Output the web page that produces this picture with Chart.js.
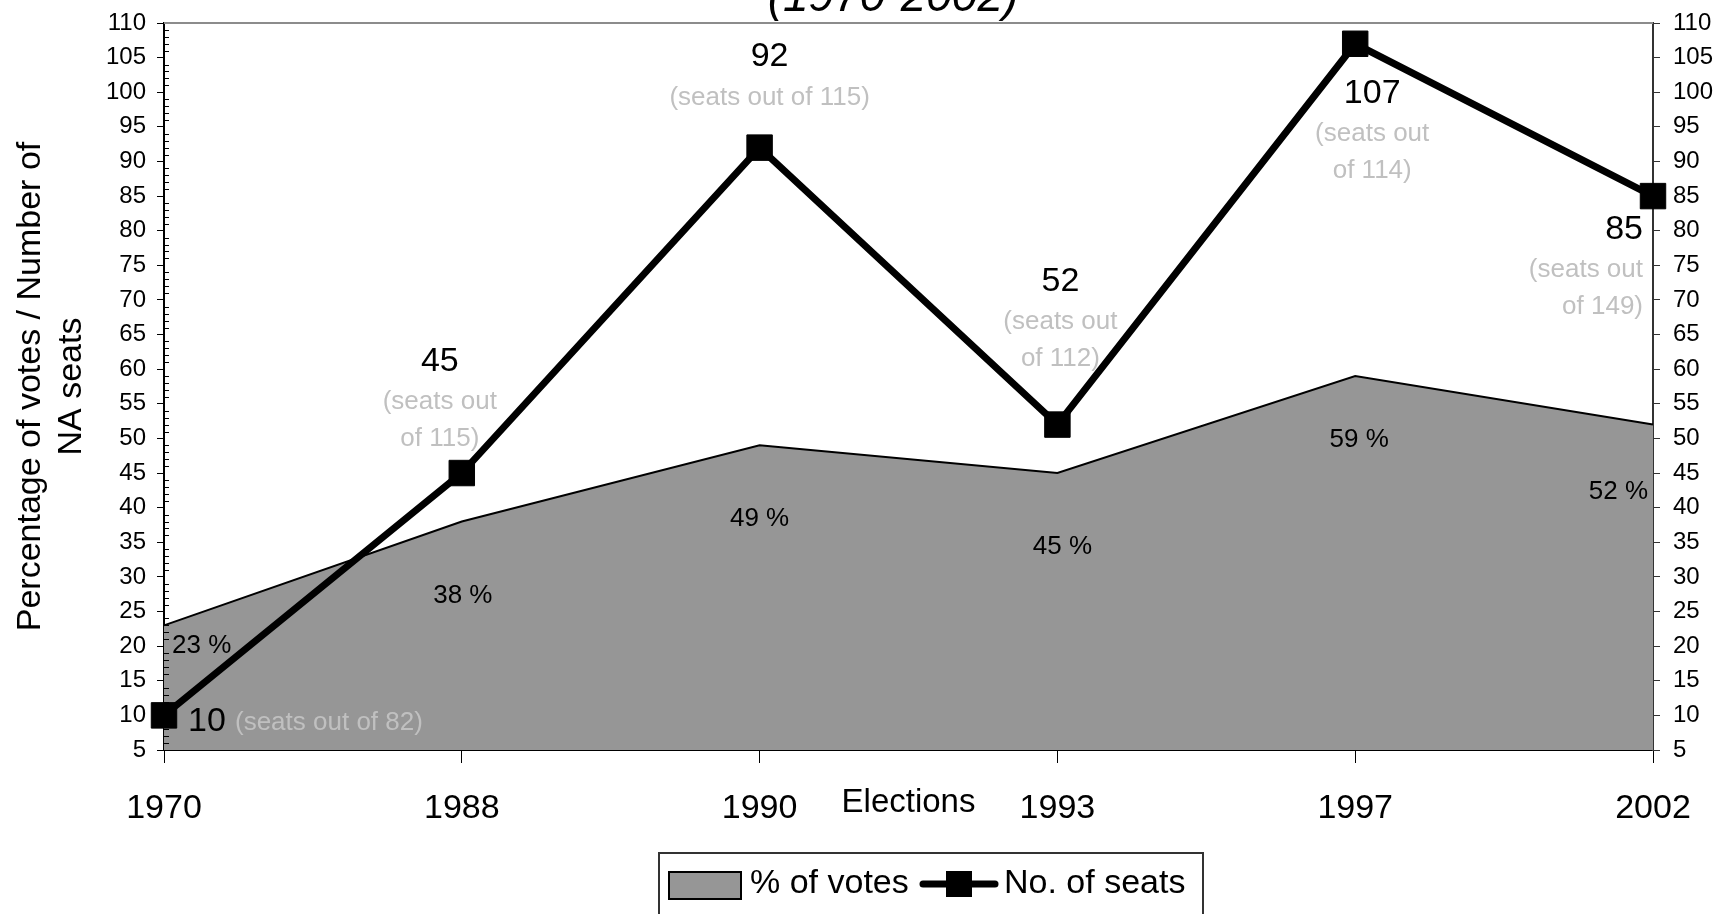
<!DOCTYPE html>
<html lang="en">
<head>
<meta charset="UTF-8">
<title>Votes and NA seats 1970-2002</title>
<script src="https://cdn.jsdelivr.net/npm/chart.js@4.4.1/dist/chart.umd.min.js"></script>
<style>
  html, body { margin: 0; padding: 0; background: #fff; }
  #wrap { width: 1727px; height: 914px; position: relative; }
</style>
</head>
<body>
<div id="wrap"><canvas id="chart"></canvas></div>
<script>
const elections = ['1970', '1988', '1990', '1993', '1997', '2002']
const votePct = [23, 38, 49, 45, 59, 52]
const seatsWon = [10, 45, 92, 52, 107, 85]
const seatsTotal = [82, 115, 115, 112, 114, 149]
const axisRange = { min: 5, max: 110, step: 5 }

// where each data label sits relative to its point (pixels)
const seatLabelPlace = [
  { align: 'left', dx: 24, dy: 6, inline: true, subDx: 71 },
  { align: 'center', dx: -22, dy: -111 },
  { align: 'center', dx: 10, dy: -91, oneLine: true },
  { align: 'center', dx: 3, dy: -143 },
  { align: 'center', dx: 17, dy: 50 },
  { align: 'right', dx: -10, dy: 34 }
]
const pctLabelPlace = [
  { align: 'left', dx: 8, dy: 20 },
  { align: 'center', dx: 1, dy: 74 },
  { align: 'center', dx: 0, dy: 73 },
  { align: 'center', dx: 5, dy: 74 },
  { align: 'center', dx: 4, dy: 64 },
  { align: 'right', dx: -5, dy: 67 }
]

const FONT = '"Liberation Sans", Arial, sans-serif'
const AREA_GREY = '#969696'
Chart.defaults.font.family = FONT
Chart.defaults.color = '#000'

const overlay = {
  id: 'overlay',
  afterDatasetsDraw(chart) {
    const { ctx, chartArea: a, scales } = chart
    ctx.save()
    // plot area top edge
    ctx.strokeStyle = '#8c8c8c'
    ctx.lineWidth = 2
    ctx.beginPath(); ctx.moveTo(a.left, a.top); ctx.lineTo(a.right, a.top); ctx.stroke()

    // minor ticks inside the left axis
    ctx.strokeStyle = '#000'
    ctx.lineWidth = 1
    for (let v = axisRange.min + 1; v < axisRange.max; v++) {
      if (v % axisRange.step === 0) continue
      const py = Math.round(scales.y.getPixelForValue(v)) + 0.5
      ctx.beginPath(); ctx.moveTo(a.left, py); ctx.lineTo(a.left + 5, py); ctx.stroke()
    }

    ctx.textBaseline = 'middle'
    // % labels on the area
    const areaPts = chart.getDatasetMeta(0).data
    ctx.font = '26px ' + FONT
    ctx.fillStyle = '#000'
    areaPts.forEach((p, i) => {
      const s = pctLabelPlace[i]
      ctx.textAlign = s.align
      ctx.fillText(votePct[i] + ' %', p.x + s.dx, p.y + s.dy)
    })

    // seat labels
    const seatPts = chart.getDatasetMeta(1).data
    seatPts.forEach((p, i) => {
      const s = seatLabelPlace[i]
      const x = p.x + s.dx, y = p.y + s.dy
      ctx.textAlign = s.align
      ctx.font = '34px ' + FONT
      ctx.fillStyle = '#000'
      ctx.fillText(String(seatsWon[i]), x, y)
      ctx.font = '26px ' + FONT
      ctx.fillStyle = '#c0c0c0'
      if (s.inline) {
        ctx.textAlign = 'left'
        ctx.fillText('(seats out of ' + seatsTotal[i] + ')', p.x + s.subDx, y + 1)
      } else if (s.oneLine) {
        ctx.fillText('(seats out of ' + seatsTotal[i] + ')', x, y + 41)
      } else {
        ctx.fillText('(seats out', x, y + 40)
        ctx.fillText('of ' + seatsTotal[i] + ')', x, y + 77)
      }
    })
    ctx.restore()
  },
  afterDraw(chart) {
    const { ctx } = chart
    ctx.save()
    // chart title, mostly outside the picture
    ctx.font = 'italic 46px ' + FONT
    ctx.fillStyle = '#000'
    ctx.textAlign = 'center'
    ctx.textBaseline = 'alphabetic'
    ctx.fillText('(1970-2002)', 893, 11)

    // legend
    const ds = chart.data.datasets
    ctx.strokeStyle = '#333'
    ctx.lineWidth = 2
    ctx.strokeRect(659, 853, 544, 100)
    const cy = 884
    ctx.fillStyle = AREA_GREY
    ctx.fillRect(669, 872, 72, 27)
    ctx.strokeStyle = '#000'
    ctx.strokeRect(669, 872, 72, 27)
    ctx.font = '34px ' + FONT
    ctx.fillStyle = '#000'
    ctx.textAlign = 'left'
    ctx.textBaseline = 'middle'
    ctx.fillText(ds[0].label, 750, cy)
    ctx.lineWidth = 7
    ctx.lineCap = 'round'
    ctx.beginPath(); ctx.moveTo(923, cy); ctx.lineTo(995, cy); ctx.stroke()
    ctx.fillRect(946, cy - 13, 26, 26)
    ctx.fillText(ds[1].label, 1004, cy)
    ctx.restore()
  }
}

new Chart(document.getElementById('chart'), {
  type: 'line',
  data: {
    labels: elections,
    datasets: [{
      label: '% of votes',
      data: votePct,
      yAxisID: 'y',
      order: 2,
      fill: 'start',
      backgroundColor: AREA_GREY,
      borderColor: '#000',
      borderWidth: 2,
      tension: 0,
      pointRadius: 0
    }, {
      label: 'No. of seats',
      data: seatsWon,
      yAxisID: 'y1',
      order: 1,
      clip: false,
      fill: false,
      borderColor: '#000',
      borderWidth: 7,
      tension: 0,
      pointStyle: 'rect',
      pointRadius: 18,
      pointBackgroundColor: '#000',
      pointBorderColor: '#000',
      pointBorderWidth: 1
    }]
  },
  options: {
    responsive: true,
    maintainAspectRatio: false,
    animation: false,
    events: [],
    layout: { autoPadding: false, padding: { top: 23, left: 0, right: 0, bottom: 0 } },
    plugins: { legend: { display: false }, tooltip: { enabled: false } },
    scales: {
      x: {
        offset: false,
        grid: { drawOnChartArea: false, drawTicks: true, tickLength: 13, color: '#000' },
        border: { display: true, color: '#000', width: 2 },
        ticks: { font: { size: 34 }, padding: 25, maxRotation: 0 },
        title: {
          display: true, text: 'Elections',
          font: { size: 33 }, padding: { top: 0, bottom: 91 }
        },
        afterFit: s => { s.height = 164 }
      },
      y: {
        position: 'left',
        min: axisRange.min, max: axisRange.max,
        grid: { drawOnChartArea: false, drawTicks: true, tickLength: 7, color: '#000' },
        border: { display: true, color: '#000', width: 2 },
        ticks: { stepSize: axisRange.step, font: { size: 24, lineHeight: 0.8 }, padding: 11 },
        title: {
          display: true,
          text: ['Percentage of votes / Number of', 'NA seats'],
          font: { size: 34, lineHeight: 1.206 },
          padding: { top: 10, bottom: 0 }
        },
        afterFit: s => { s.width = 164 }
      },
      y1: {
        position: 'right',
        min: axisRange.min, max: axisRange.max,
        grid: { drawOnChartArea: false, drawTicks: true, tickLength: 7, color: '#333' },
        border: { display: true, color: '#333', width: 2 },
        ticks: { stepSize: axisRange.step, font: { size: 24, lineHeight: 0.8 }, padding: 13 },
        afterFit: s => { s.width = 74 }
      }
    }
  },
  plugins: [overlay]
})
</script>
</body>
</html>
